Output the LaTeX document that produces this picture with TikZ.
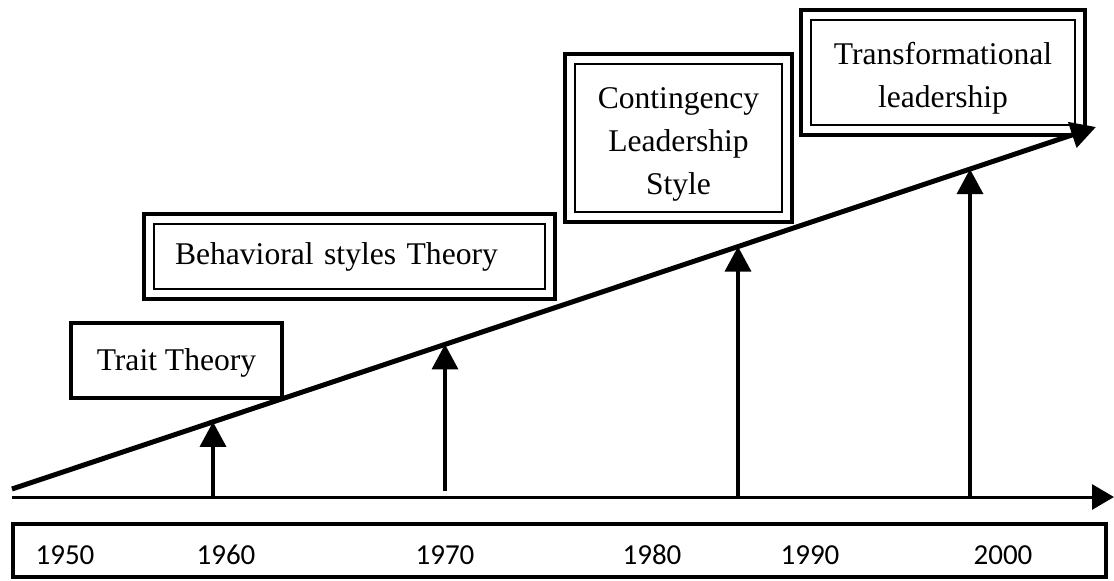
\documentclass[tikz,border=0pt]{standalone}
\usepackage{fontspec}
\setmainfont{Liberation Serif}
\newfontfamily\yearfamily{Carlito}
\usetikzlibrary{arrows.meta,calc}

\begin{document}
\begin{tikzpicture}[x=1pt,y=-1pt,
  stagebox/.style={draw,line width=4pt,inner sep=0pt,outer sep=0pt,align=center,
    font=\fontsize{31.6}{43}\selectfont},
  innerline/.style={line width=1.2pt},
  timeline/.style={line width=5pt,-{Triangle[length=25pt,width=26pt]}},
  uparrow/.style={line width=3.5pt,-{Triangle[length=25pt,width=26pt]}},
  axisline/.style={line width=3pt,-{Triangle[length=22pt,width=25pt]}},
  yearlabel/.style={font=\yearfamily\fontsize{29}{32}\selectfont}]
\useasboundingbox (0,0) rectangle (1114,581);

% Parameters
\def\xstart{12}
\def\ystart{489}
\def\xend{1096}
\def\yend{127}
\def\axisY{497}
\def\textdrop{\rule{0pt}{33pt}}

% Stage boxes
\node[stagebox,minimum width=211pt,minimum height=75pt] (trait) at (176.5,360.5) {\rule{0pt}{26pt}Trait Theory};
\node[stagebox,minimum width=411pt,minimum height=85pt,text width=349pt,align=left,inner xsep=31pt] (behav) at (349.5,256.5) {Behavioral styles Theory};
\node[stagebox,minimum width=227pt,minimum height=168pt] (conting) at (678.5,138) {\textdrop Contingency\\Leadership\\Style};
\node[stagebox,minimum width=284pt,minimum height=125pt] (transf) at (943,72.5) {\textdrop Transformational\\leadership};
\foreach \n in {behav,conting,transf}
  \draw[innerline] ($(\n.south west)+(10,-10)$) rectangle ($(\n.north east)+(-10,10)$);

% Time axis and years
\coordinate (axis0) at (\xstart,\axisY);
\coordinate (axis1) at (1114,\axisY);
\draw[axisline] (axis0) -- (axis1);
\node[draw,line width=4pt,minimum width=1093pt,minimum height=53pt] (years) at (559.5,550.5) {};
\foreach \yr/\x in {1950/65,1960/226,1970/445,1980/652,1990/810,2000/1003}
  \node[yearlabel] (y\yr) at (\x,555) {\yr};

% Arrows up to the slope
\foreach \x/\yr/\yb in {213/1960/497,445/1970/491,738/1990/497,970/2000/497}{
  \pgfmathsetmacro\tipY{\ystart-(\x-\xstart)/(\xend-\xstart)*(\ystart-\yend)}
  \coordinate (foot\yr) at (\x,\yb);
  \coordinate (tip\yr) at (\x,\tipY);
  \draw[uparrow] (foot\yr) -- (tip\yr);
}

% Slope
\coordinate (slope0) at (\xstart,\ystart);
\coordinate (slope1) at (\xend,\yend);
\draw[timeline] (slope0) -- (slope1);
\end{tikzpicture}
\end{document}
